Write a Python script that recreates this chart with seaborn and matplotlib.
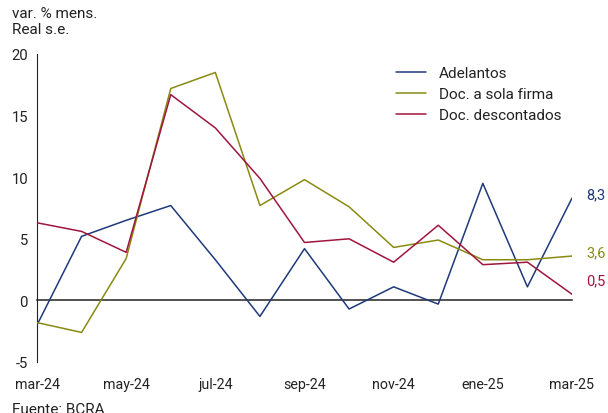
import matplotlib
matplotlib.use("Agg")
import matplotlib.pyplot as plt
import seaborn as sns
import pandas as pd

# Monthly real variation (%), seasonally adjusted
months = ["mar-24", "abr-24", "may-24", "jun-24", "jul-24", "ago-24", "sep-24",
          "oct-24", "nov-24", "dic-24", "ene-25", "feb-25", "mar-25"]
adelantos = [-2.0, 5.2, 6.5, 7.7, 3.3, -1.3, 4.2, -0.7, 1.1, -0.3, 9.5, 1.1, 8.3]
sola_firma = [-1.8, -2.6, 3.4, 17.2, 18.5, 7.7, 9.8, 7.6, 4.3, 4.9, 3.3, 3.3, 3.6]
descontados = [6.3, 5.6, 3.9, 16.7, 14.0, 9.9, 4.7, 5.0, 3.1, 6.1, 2.9, 3.1, 0.5]

series_names = ["Adelantos", "Doc. a sola firma", "Doc. descontados"]
colors = ["#1F3A7A", "#8A8A12", "#A0153E"]
tick_months = ["mar-24", "may-24", "jul-24", "sep-24", "nov-24", "ene-25", "mar-25"]

df = pd.DataFrame({"mes": months, "Adelantos": adelantos,
                   "Doc. a sola firma": sola_firma,
                   "Doc. descontados": descontados})
df["idx"] = range(len(months))
long = df.melt(id_vars=["mes", "idx"], value_vars=series_names,
               var_name="serie", value_name="valor")

sns.set_theme(style="white")
plt.rcParams["font.family"] = ["Roboto", "DejaVu Sans"]
plt.rcParams["text.color"] = "#222222"

FS = 10.3

fig = plt.figure(figsize=(6.08, 4.14), dpi=100)
ax = fig.add_axes([37 / 608, 1 - 363 / 414, (572 - 37) / 608, (363 - 55) / 414])

sns.lineplot(data=long, x="idx", y="valor", hue="serie", hue_order=series_names,
             palette=colors, linewidth=1.1, ax=ax, legend=True)

ax.set_xlim(0, len(months) - 1)
ax.set_ylim(-5, 20)
ax.set_yticks([-5, 0, 5, 10, 15, 20])
ax.set_yticklabels(["-5", "0", "5", "10", "15", "20"])
ax.set_xlabel("")
ax.set_ylabel("")

tick_pos = [months.index(m) for m in tick_months]
ax.set_xticks(tick_pos)
ax.set_xticklabels(tick_months)

for s in ["top", "right"]:
    ax.spines[s].set_visible(False)
ax.spines["bottom"].set_position(("data", 0))
ax.spines["bottom"].set_color("#222222")
ax.spines["bottom"].set_linewidth(1.1)
ax.spines["left"].set_color("#222222")
ax.spines["left"].set_linewidth(0.8)
ax.tick_params(axis="x", direction="in", length=3, width=0.8, color="#555555",
               pad=55, labelsize=FS, labelcolor="#222222")
ax.tick_params(axis="y", direction="inout", length=5, width=0.8, color="#222222",
               pad=4, labelsize=FS + 0.4, labelcolor="#222222")

for line in ax.get_lines():
    line.set_zorder(3)

leg = ax.legend(loc="upper left", bbox_to_anchor=(0.645, 1.005), frameon=False,
                fontsize=11, handlelength=2.0, handletextpad=0.8,
                labelspacing=0.45)
for h in leg.get_lines():
    h.set_linewidth(1.1)

# end-of-series value labels
last = len(months) - 1
offsets = [3, 3, 10]
for vals, c, off in zip([adelantos, sola_firma, descontados], colors, offsets):
    v = vals[-1]
    ax.annotate(f"{v:.1f}".replace(".", ","), xy=(last, v), xytext=(10, off),
                textcoords="offset points", color=c, fontsize=10.5,
                ha="left", va="center", annotation_clip=False)

fig.text(12 / 608, 1 - 7 / 414, "var. % mens.\nReal s.e.", ha="left", va="top",
         fontsize=11, linespacing=1.15)
fig.text(12 / 608, 1 - 403 / 414, "Fuente: BCRA", ha="left", va="top",
         fontsize=11)

fig.savefig("out.png", dpi=100)
